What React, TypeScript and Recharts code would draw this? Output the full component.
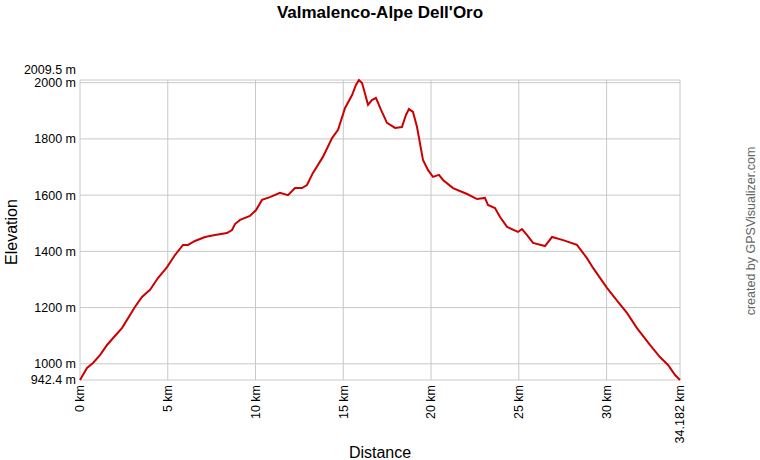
import { LineChart, Line, XAxis, YAxis, CartesianGrid } from 'recharts'

// distance along the track (km) and elevation (m)
const distanceKm = [
  0, 0.4, 0.74, 1.14, 1.54, 1.99, 2.39, 3.13, 3.53, 3.99, 4.44, 4.96, 5.41, 5.87,
  6.15, 6.55, 7.12, 7.69, 8.37, 8.66, 8.83, 9.12, 9.68, 10.03, 10.37, 10.82, 11.39,
  11.85, 12.25, 12.65, 12.93, 13.27, 13.84, 14.36, 14.7, 15.1, 15.5, 15.72, 15.89,
  16.07, 16.41, 16.63, 16.86, 17.15, 17.49, 17.95, 18.34, 18.57, 18.74, 18.97,
  19.2, 19.54, 19.83, 20.11, 20.45, 20.68, 21.25, 22.05, 22.62, 23.07, 23.24,
  23.64, 23.93, 24.33, 24.95, 25.18, 25.47, 25.81, 26.49, 26.89, 27.52, 28.31,
  28.88, 29.23, 30.02, 30.65, 31.16, 31.73, 32.47, 33.04, 33.5, 33.9, 34.182,
]
const elevationM = [
  942.4, 985, 1003, 1031, 1067, 1099, 1127, 1202, 1238, 1263, 1305, 1344, 1387, 1423,
  1423, 1437, 1451, 1458, 1465, 1476, 1497, 1512, 1526, 1547, 1583, 1593, 1608,
  1600, 1625, 1625, 1636, 1679, 1736, 1803, 1832, 1910, 1956, 1992, 2009.5,
  1999, 1921, 1938, 1946, 1903, 1857, 1839, 1842, 1885, 1906, 1896,
  1842, 1725, 1689, 1665, 1672, 1654, 1625, 1604, 1586, 1590, 1565,
  1554, 1522, 1487, 1469, 1479, 1458, 1430, 1419, 1451, 1440, 1423,
  1376, 1341, 1270, 1220, 1181, 1127, 1067, 1024, 996, 960, 942.4,
]

const xTicks = [0, 5, 10, 15, 20, 25, 30, 34.182]
const yTicks = [942.4, 1000, 1200, 1400, 1600, 1800, 2000, 2009.5]

const data = distanceKm.map((d, i) => ({ dist: d, elev: elevationM[i] }))

const font = 'Arial, "Liberation Sans", Helvetica, sans-serif'

function XTick(props: any) {
  const { x, y, payload } = props
  return (
    <text
      x={x}
      y={y}
      transform={`rotate(-90 ${x} ${y})`}
      textAnchor="end"
      dy="0.35em"
      fontSize={12.5}
      fontFamily={font}
      fill="#000"
    >
      {`${payload.value} km`}
    </text>
  )
}

function YTick(props: any) {
  const { x, y, payload } = props
  const shift = payload.value === 2009.5 ? -10 : 0
  return (
    <text x={x} y={y + shift} textAnchor="end" dy="0.35em" fontSize={12.5} fontFamily={font} fill="#000">
      {`${payload.value} m`}
    </text>
  )
}

export default function App() {
  return (
    <div style={{ position: 'fixed', left: 0, top: 0, width: 760, height: 460, background: '#fff' }}>
      <div
        style={{
          position: 'absolute',
          left: 0,
          top: 4,
          width: 760,
          textAlign: 'center',
          fontFamily: font,
          fontWeight: 'bold',
          fontSize: 17,
          lineHeight: '17px',
          color: '#000',
        }}
      >
        Valmalenco-Alpe Dell'Oro
      </div>
      <div
        style={{
          position: 'absolute',
          left: 751,
          top: 231,
          transform: 'translate(-50%, -50%) rotate(-90deg)',
          whiteSpace: 'nowrap',
          fontFamily: font,
          fontSize: 12.5,
          color: '#666',
        }}
      >
        created by GPSVisualizer.com
      </div>
      <LineChart width={760} height={460} data={data} margin={{ top: 80, right: 80, bottom: 0, left: 0 }}>
        <CartesianGrid stroke="#c8c8c8" strokeWidth={1} />
        <XAxis
          type="number"
          dataKey="dist"
          domain={[0, 34.182]}
          ticks={xTicks}
          interval={0}
          height={80}
          axisLine={false}
          tickLine={false}
          tickSize={0}
          tickMargin={5}
          tick={<XTick />}
          label={() => (
            <text x={380} y={458} textAnchor="middle" fontSize={16} fontFamily={font} fill="#000">
              Distance
            </text>
          )}
        />
        <YAxis
          type="number"
          domain={[942.4, 2009.5]}
          ticks={yTicks}
          interval={0}
          width={80}
          axisLine={false}
          tickLine={false}
          tickSize={0}
          tickMargin={4}
          tick={<YTick />}
          label={() => (
            <text
              x={17}
              y={232}
              transform="rotate(-90 17 232)"
              textAnchor="middle"
              fontSize={16}
              fontFamily={font}
              fill="#000"
            >
              Elevation
            </text>
          )}
        />
        <Line
          type="linear"
          dataKey="elev"
          stroke="#cc0000"
          strokeWidth={2}
          dot={false}
          isAnimationActive={false}
        />
      </LineChart>
    </div>
  )
}
